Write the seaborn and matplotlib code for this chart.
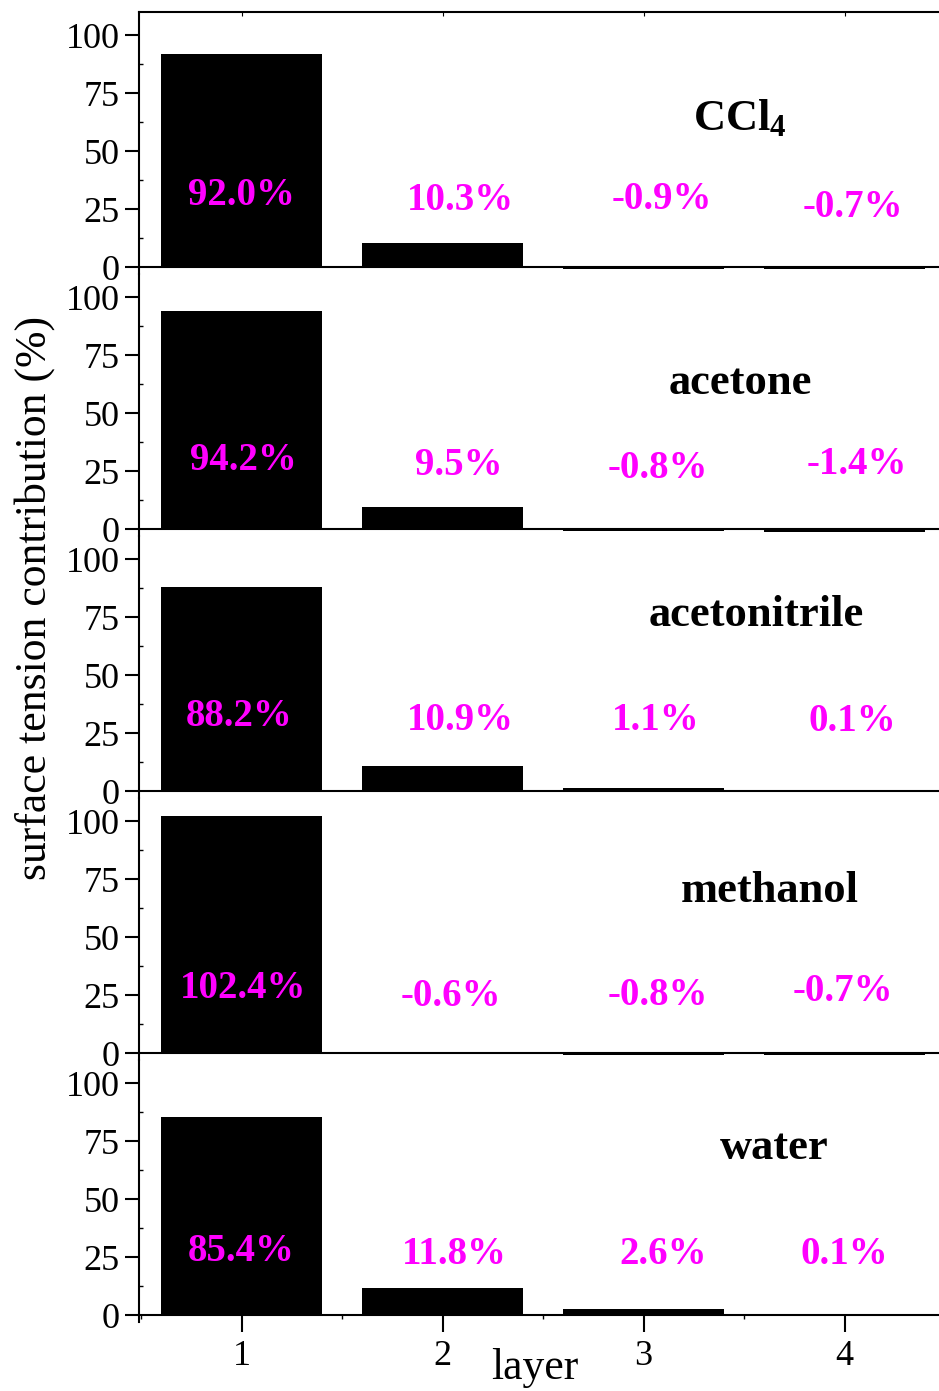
import numpy as np
import pandas as pd
import seaborn as sns
import matplotlib.pyplot as plt
from matplotlib.ticker import MultipleLocator

# ---------------- data ----------------
layers = [1, 2, 3, 4]
ccl4 = [92.0, 10.3, -0.9, -0.7]
acetone = [94.2, 9.5, -0.8, -1.4]
acetonitrile = [88.2, 10.9, 1.1, 0.1]
methanol = [102.4, -0.6, -0.8, -0.7]
water = [85.4, 11.8, 2.6, 0.1]
panel_names = [r"CCl$_{4}$", "acetone", "acetonitrile", "methanol", "water"]
y_ticks = [0, 25, 50, 75, 100]
x_ticks = [1, 2, 3, 4]
x_label = "layer"
y_label = "surface tension contribution (%)"

series = [ccl4, acetone, acetonitrile, methanol, water]

# ---------------- layout (positions only) ----------------
name_pos = [(3.48, 64), (3.48, 63), (3.56, 76), (3.63, 70), (3.65, 72)]
pct_dx = [[0.0, 0.09, 0.09, 0.04],
          [0.01, 0.08, 0.07, 0.06],
          [-0.01, 0.09, 0.06, 0.04],
          [0.01, 0.04, 0.07, -0.01],
          [0.0, 0.06, 0.10, 0.0]]
pct_y = [[31, 28.5, 29, 25.5],
         [29.7, 27.6, 26.3, 28],
         [32.3, 30.6, 30.6, 30.2],
         [28, 24.6, 25, 26.7],
         [27.6, 26.3, 26.3, 26.3]]

sns.set_style("white")
plt.rcParams['font.family'] = ['Liberation Serif', 'DejaVu Serif']
plt.rcParams['mathtext.fontset'] = 'custom'
plt.rcParams['mathtext.rm'] = 'Liberation Serif:bold'
plt.rcParams['mathtext.it'] = 'Liberation Serif:bold'
plt.rcParams['mathtext.bf'] = 'Liberation Serif:bold'
for k in ['text.color', 'axes.labelcolor', 'xtick.color', 'ytick.color',
          'axes.edgecolor']:
    plt.rcParams[k] = 'black'

W, H = 939, 1391
fig = plt.figure(figsize=(W / 100, H / 100), dpi=100)

left_px, right_px = 139, 939
top0, ph = 12, 262

for i, vals in enumerate(series):
    top = top0 + ph * i
    ax = fig.add_axes([left_px / W, 1 - (top + ph) / H,
                       (right_px - left_px) / W, ph / H])
    df = pd.DataFrame({"layer": layers, "value": vals})
    sns.barplot(data=df, x="layer", y="value", native_scale=True,
                color="black", saturation=1, width=0.8, linewidth=0, ax=ax)
    ax.set_xlim(0.49, 4.47)
    ax.set_ylim(-3, 110)
    ax.set_xlabel("")
    ax.set_ylabel("")
    ax.set_yticks(y_ticks)
    ax.yaxis.set_minor_locator(MultipleLocator(12.5))
    ax.tick_params(axis='y', which='major', direction='out', length=10,
                   width=1.5, labelsize=26, pad=4, left=True,
                   colors='black')
    ax.tick_params(axis='y', which='minor', direction='in', length=3,
                   width=1, left=True, colors='black')
    for s in ax.spines.values():
        s.set_linewidth(1.5)
        s.set_color('black')
    ax.spines['right'].set_visible(False)
    ax.spines['top'].set_visible(i == 0)
    if i < 4:
        ax.spines['bottom'].set_visible(False)
        ax.axhline(0, color='black', lw=1.5, zorder=0)
        ax.set_xticks(x_ticks)
        ax.tick_params(axis='x', which='both', bottom=False, labelbottom=False,
                       top=(i == 0), direction='in', length=3, colors='black')
    else:
        ax.spines['bottom'].set_position(('data', 0))
        ax.set_xticks(x_ticks)
        ax.set_xticklabels([str(t) for t in x_ticks])
        ax.xaxis.set_minor_locator(MultipleLocator(0.5))
        ax.tick_params(axis='x', which='major', direction='out', length=12,
                       width=1.5, labelsize=26, pad=6, bottom=True,
                       colors='black')
        ax.tick_params(axis='x', which='minor', direction='out', length=3,
                       width=1, bottom=True, colors='black')
    ax.patch.set_alpha(0)

    for j, v in enumerate(vals):
        ax.text(layers[j] + pct_dx[i][j], pct_y[i][j], f"{v:.1f}%",
                ha='center', va='center', color='#FF00FF',
                fontsize=28, fontweight='bold')
    nx, ny = name_pos[i]
    ax.text(nx, ny, panel_names[i], ha='center', va='center',
            color='black', fontsize=32, fontweight='bold')

fig.text(35 / W, 1 - 598 / H, y_label, rotation=90, ha='center', va='center',
         fontsize=31.5, color='black')
fig.text(535 / W, 1 - 1368 / H, x_label, ha='center', va='center',
         fontsize=31.5, color='black')

fig.savefig("out.png", dpi=100)
